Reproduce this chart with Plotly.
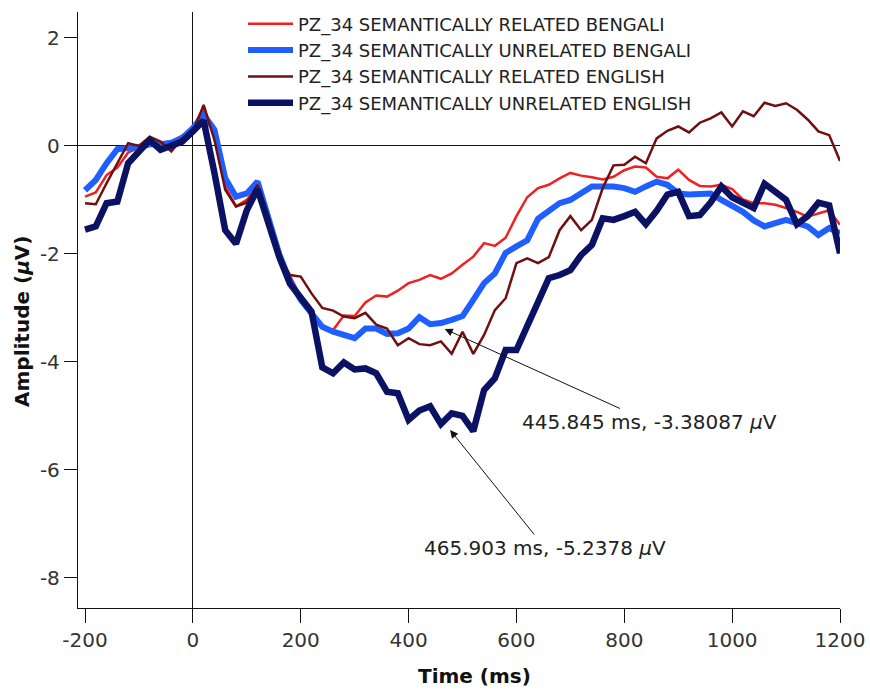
import plotly.graph_objects as go

time_ms = [-200, -180, -160, -140, -120, -100, -80, -60, -40, -20, 0, 20, 40, 60, 80, 100, 120,
           140, 160, 180, 200, 220, 240, 260, 280, 300, 320, 340, 360, 380, 400, 420, 440, 460,
           480, 500, 520, 540, 560, 580, 600, 620, 640, 660, 680, 700, 720, 740, 760, 780, 800,
           820, 840, 860, 880, 900, 920, 940, 960, 980, 1000, 1020, 1040, 1060, 1080, 1100,
           1120, 1140, 1160, 1180, 1200]

related_bengali = [-0.94, -0.86, -0.54, -0.40, -0.12, -0.04, 0.02, 0.03, 0.08, 0.19, 0.35, 0.70,
                   0.17, -0.75, -1.12, -1.00, -0.77, -1.35, -2.10, -2.40, -2.80, -3.07, -3.35,
                   -3.41, -3.14, -3.15, -2.90, -2.77, -2.79, -2.68, -2.54, -2.48, -2.39, -2.46,
                   -2.36, -2.20, -2.05, -1.80, -1.85, -1.70, -1.30, -0.95, -0.78, -0.72, -0.60,
                   -0.50, -0.55, -0.58, -0.62, -0.57, -0.45, -0.38, -0.40, -0.57, -0.60, -0.44,
                   -0.63, -0.74, -0.75, -0.72, -0.80, -0.99, -1.06, -1.06, -1.09, -1.15, -1.22,
                   -1.31, -1.25, -1.19, -1.46]

unrelated_bengali = [-0.82, -0.63, -0.32, -0.06, -0.04, -0.02, 0.03, 0.03, 0.06, 0.14, 0.33, 0.58,
                     0.30, -0.60, -0.94, -0.88, -0.66, -1.30, -2.00, -2.50, -2.85, -3.10, -3.35,
                     -3.44, -3.50, -3.56, -3.38, -3.38, -3.48, -3.47, -3.38, -3.17, -3.30, -3.28,
                     -3.22, -3.15, -2.85, -2.54, -2.36, -1.98, -1.86, -1.75, -1.35, -1.20, -1.06,
                     -1.00, -0.88, -0.75, -0.75, -0.75, -0.78, -0.85, -0.75, -0.66, -0.72, -0.88,
                     -0.90, -0.90, -0.88, -1.00, -1.10, -1.22, -1.38, -1.49, -1.43, -1.37, -1.43,
                     -1.49, -1.65, -1.52, -1.62]

related_english = [-1.06, -1.08, -0.69, -0.33, 0.05, 0.00, 0.17, 0.08, -0.10, 0.14, 0.25, 0.76,
                   0.11, -0.81, -1.12, -1.05, -0.72, -1.30, -2.05, -2.39, -2.42, -2.73, -3.00,
                   -3.05, -3.16, -3.19, -3.09, -3.31, -3.38, -3.69, -3.56, -3.67, -3.69, -3.62,
                   -3.85, -3.44, -3.85, -3.50, -3.04, -2.82, -2.17, -2.08, -2.17, -2.06, -1.56,
                   -1.30, -1.56, -1.37, -0.78, -0.36, -0.35, -0.20, -0.32, 0.14, 0.28, 0.36,
                   0.25, 0.43, 0.51, 0.62, 0.36, 0.64, 0.55, 0.80, 0.74, 0.79, 0.67, 0.49, 0.27,
                   0.20, -0.28]

unrelated_english = [-1.55, -1.49, -1.06, -1.03, -0.32, -0.10, 0.11, -0.07, -0.01, 0.08, 0.27, 0.47,
                     -0.50, -1.56, -1.81, -1.19, -0.80, -1.40, -2.05, -2.55, -2.82, -3.07, -4.10,
                     -4.21, -4.01, -4.14, -4.12, -4.21, -4.55, -4.58, -5.07, -4.90, -4.82, -5.15,
                     -4.95, -5.00, -5.28, -4.52, -4.30, -3.78, -3.78, -3.35, -2.88, -2.45, -2.39,
                     -2.30, -2.02, -1.83, -1.34, -1.37, -1.30, -1.22, -1.45, -1.20, -0.90, -0.85,
                     -1.30, -1.28, -1.05, -0.75, -0.95, -1.05, -1.15, -0.70, -0.85, -1.00, -1.45,
                     -1.30, -1.05, -1.10, -1.99]

series_names = ["PZ_34 SEMANTICALLY RELATED BENGALI",
                "PZ_34 SEMANTICALLY UNRELATED BENGALI",
                "PZ_34 SEMANTICALLY RELATED ENGLISH",
                "PZ_34 SEMANTICALLY UNRELATED ENGLISH"]
series_values = [related_bengali, unrelated_bengali, related_english, unrelated_english]
series_colors = ["#ee2222", "#1f5eff", "#6e1010", "#0b1264"]
series_widths = [2.5, 6, 2.5, 6.5]

x_ticks = [-200, 0, 200, 400, 600, 800, 1000, 1200]
x_tick_labels = ["-200", "0", "200", "400", "600", "800", "1000", "1200"]
y_ticks = [-8, -6, -4, -2, 0, 2]
y_tick_labels = ["-8", "-6", "-4", "-2", "0", "2"]

# annotated points: (time, amplitude, label, text offset x, text offset y)
marks = [(467, -3.39, "445.845 ms, -3.38087 <i>µ</i>V", 205, 93),
         (477, -5.26, "465.903 ms, -5.2378 <i>µ</i>V", 95, 118)]

fig = go.Figure()
for name, vals, col, w in zip(series_names, series_values, series_colors, series_widths):
    fig.add_trace(go.Scatter(x=time_ms, y=vals, mode="lines", name=name,
                             line=dict(color=col, width=w)))

font_main = "DejaVu Sans"

annotations = []
for t, v, label, ax, ay in marks:
    annotations.append(dict(x=t, y=v, xref="x", yref="y", text=label, showarrow=True,
                            ax=ax, ay=ay, arrowhead=2, arrowsize=1.6, arrowwidth=1,
                            arrowcolor="#111", font=dict(family=font_main, size=20, color="#222")))

annotations.append(dict(x=(474 - 78) / 762, y=-(676 - 608) / 596, xref="paper", yref="paper",
                        text="<b>Time (ms)</b>", showarrow=False, xanchor="center", yanchor="middle",
                        font=dict(family=font_main, size=20, color="#111")))
annotations.append(dict(x=-(78 - 22) / 762, y=(608 - 322) / 596, xref="paper", yref="paper",
                        text="<b>Amplitude (<i>µ</i>V)</b>", showarrow=False, textangle=-90,
                        xanchor="center", yanchor="middle",
                        font=dict(family=font_main, size=20, color="#111")))

fig.update_layout(
    width=870, height=689,
    margin=dict(l=78, r=30, t=12, b=81, autoexpand=False),
    paper_bgcolor="white", plot_bgcolor="white",
    showlegend=True,
    legend=dict(x=(243 - 78) / 762, y=1.011, xanchor="left", yanchor="top",
                bgcolor="rgba(0,0,0,0)", font=dict(family=font_main, size=18, color="#222"),
                itemwidth=45),
    annotations=annotations,
    xaxis=dict(range=[-213, 1200], tickvals=x_ticks, ticktext=x_tick_labels, ticks="outside",
               ticklen=14, tickwidth=1.3, automargin=False,
               tickcolor="#111", showline=True, linecolor="#111", linewidth=1.3, showgrid=False,
               zeroline=True, zerolinecolor="#111", zerolinewidth=1.3,
               tickfont=dict(family=font_main, size=20, color="#333")),
    yaxis=dict(range=[-8.556, 2.48], tickvals=y_ticks, ticktext=y_tick_labels, ticks="outside",
               ticklen=13, tickwidth=1.3, automargin=False,
               tickcolor="#111", showline=True, linecolor="#111", linewidth=1.3, showgrid=False,
               zeroline=True, zerolinecolor="#111", zerolinewidth=1.3,
               tickfont=dict(family=font_main, size=20, color="#333")),
)

fig.write_html("out.html")
